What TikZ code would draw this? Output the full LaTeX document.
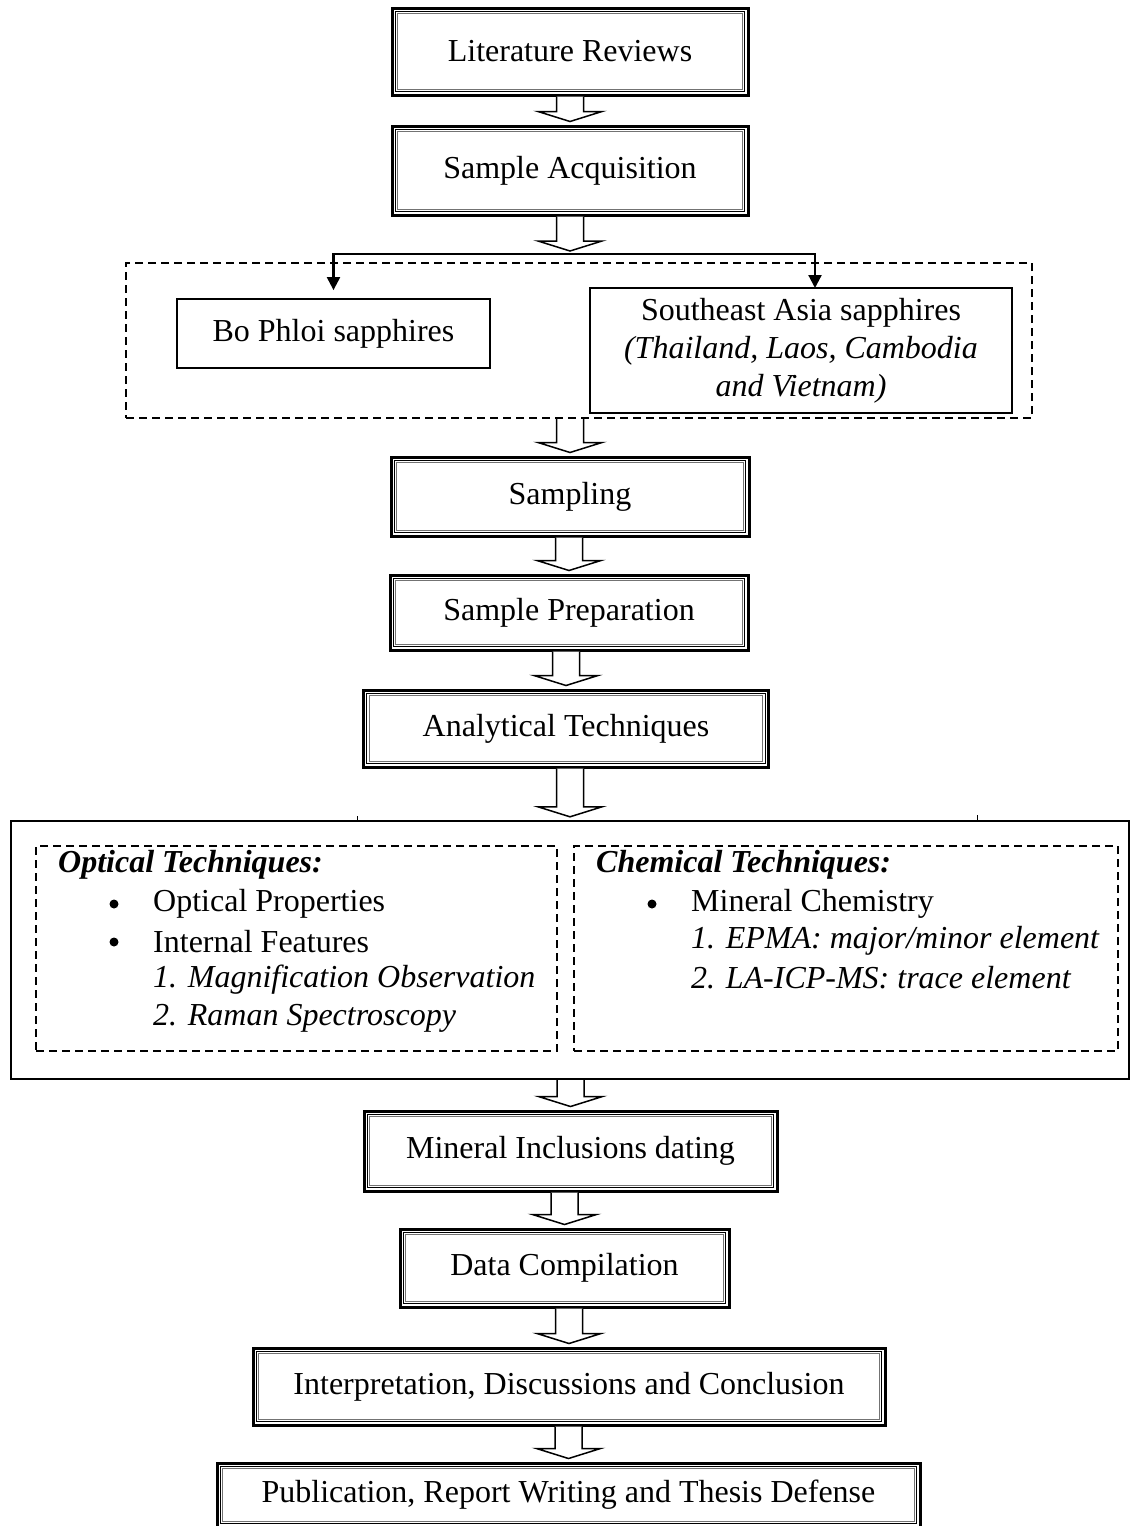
\documentclass[tikz,border=0pt]{standalone}
\usepackage{fontspec}
\setmainfont{Liberation Serif}
\usetikzlibrary{arrows.meta,calc}
\begin{document}
\begin{tikzpicture}[x=1pt,y=-1pt,
  txt/.style={font=\fontsize{32}{38}\selectfont},
  tribox/.style={draw,line width=3pt,inner sep=0pt,align=center,txt},
  plainbox/.style={draw,line width=1.8pt,inner sep=0pt,align=center,txt},
  dashbox/.style={draw,line width=2.2pt,dash pattern=on 8pt off 5pt,inner sep=0pt},
  bigframe/.style={draw,line width=2.4pt,inner sep=0pt},
  connector/.style={line width=2.2pt,-{Triangle[width=13pt,length=13pt]}},
  hollow/.style={line width=1.5pt,fill=white},
  item/.style={txt,anchor=west,inner sep=0pt},
  dot/.style={circle,fill=black,inner sep=0pt,minimum size=9pt}]
\useasboundingbox (0,0) rectangle (1133,1526);

\newcommand\hollowarrow[2]{%
  \draw[hollow] let \p1=(#1), \p2=(#2) in
    (\x2-13.5pt,\y1) -- (\x2-13.5pt,\y2+13pt) -- (\x2-32pt,\y2+13pt) --
    (\x2,\y2+3pt) -- (\x2+32pt,\y2+13pt) -- (\x2+13.5pt,\y2+13pt) -- (\x2+13.5pt,\y1);}

% main boxes
\node[tribox,minimum width=356pt,minimum height=87pt] (lit) at (570,51.5) {Literature Reviews};
\node[tribox,minimum width=356pt,minimum height=89pt] (acq) at (570,170.5) {Sample Acquisition};
\coordinate (split) at (570,254);

\node[dashbox,minimum width=906pt,minimum height=155pt] (grp) at (579,340.5) {};
\node[plainbox,minimum width=313pt,minimum height=69pt] (bo) at (333.5,333.5) {Bo Phloi sapphires};
\node[plainbox,minimum width=422pt,minimum height=125pt] (sea) at (801,350.5)
  {Southeast Asia sapphires\\ \textit{(Thailand, Laos, Cambodia}\\ \textit{and Vietnam)}};
\coordinate (seain) at (815,288);

\node[tribox,minimum width=358pt,minimum height=79pt] (samp) at (570,496.5) {Sampling};
\node[tribox,minimum width=358pt,minimum height=75pt] (prep) at (569,612.5) {Sample Preparation};
\node[tribox,minimum width=405pt,minimum height=77pt] (anal) at (566,728.5) {Analytical Techniques};

\node[bigframe,minimum width=1118pt,minimum height=258pt] (big) at (570,950) {};
\node[dashbox,minimum width=521pt,minimum height=205pt] (optbox) at (296.5,948.5) {};
\node[dashbox,minimum width=544pt,minimum height=205pt] (chembox) at (846,948.5) {};

\node[tribox,minimum width=413pt,minimum height=80pt] (mineral) at (570.5,1151) {Mineral Inclusions dating};
\node[tribox,minimum width=329pt,minimum height=78pt] (data) at (564.5,1268) {Data Compilation};
\node[tribox,minimum width=632pt,minimum height=77pt] (interp) at (569,1386.5) {Interpretation, Discussions and Conclusion};
\node[tribox,minimum width=703pt,minimum height=64pt] (pub) at (568.5,1495) {Publication, Report Writing and Thesis Defense};

% inner lines of the triple borders
\foreach \n in {lit,acq,samp,prep,anal,mineral,data,interp,pub}{
  \draw[line width=1.3pt] ([shift={(4.8,4.8)}]\n.north west) rectangle ([shift={(-4.8,-4.8)}]\n.south east);
  \draw[line width=0.7pt,black!55] ([shift={(7.3,7.3)}]\n.north west) rectangle ([shift={(-7.3,-7.3)}]\n.south east);
}

% texts in the technique boxes
\node[item] (opth) at (58,865) {\textbf{\textit{Optical Techniques:}}};
\node[dot] (ob1) at (114,904) {};
\node[item] (op1) at (153,904) {Optical Properties};
\node[dot] (ob2) at (114,942) {};
\node[item] (op2) at (153,942) {Internal Features};
\node[item] (op3) at (153,980) {\textit{1. Magnification Observation}};
\node[item] (op4) at (153,1018) {\textit{2. Raman Spectroscopy}};

\node[item] (chh) at (596,865) {\textbf{\textit{Chemical Techniques:}}};
\node[dot] (cb1) at (652,904) {};
\node[item] (ch1) at (691,904) {Mineral Chemistry};
\node[item] (ch2) at (691,941) {\textit{1. EPMA: major/minor element}};
\node[item] (ch3) at (691,978) {\textit{2. LA-ICP-MS: trace element}};

% small ticks on the frame top
\draw[line width=1pt] (357,816) -- (357,821);
\draw[line width=1pt] (977,815) -- (977,821);

% hollow block arrows
\hollowarrow{lit.south}{acq.north}
\hollowarrow{acq.south}{split}
\hollowarrow{grp.south}{samp.north}
\hollowarrow{samp.south}{prep.north}
\hollowarrow{prep.south}{anal.north}
\hollowarrow{anal.south}{big.north}
\hollowarrow{big.south}{mineral.north}
\hollowarrow{mineral.south}{data.north}
\hollowarrow{data.south}{interp.north}
\hollowarrow{interp.south}{pub.north}

% split connectors
\draw[connector,shorten >=8pt] (split) -| (bo.north);
\draw[connector] (split) -| (seain);
\end{tikzpicture}
\end{document}
